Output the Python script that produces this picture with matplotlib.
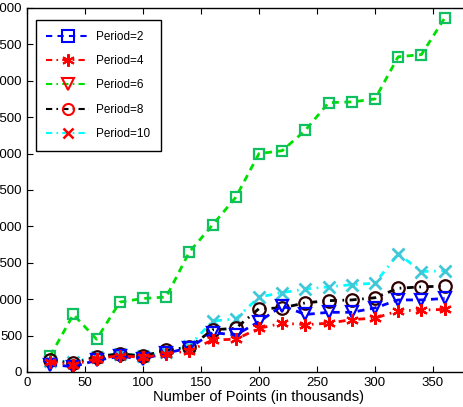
import numpy as np
import matplotlib
matplotlib.use('Agg')
import matplotlib.pyplot as plt
from matplotlib.lines import Line2D

plt.rcParams['font.family'] = ['Liberation Sans', 'DejaVu Sans']

# number of points (thousands)
points = [20, 40, 60, 80, 100, 120, 140, 160, 180, 200, 220, 240, 260, 280, 300, 320, 340, 360]

period2 = [100, 75, 160, 215, 180, 260, 330, 540, 510, 690, 910, 790, 820, 820, 880, 990, 990, 1010]
period4 = [140, 100, 185, 225, 200, 250, 290, 440, 450, 600, 670, 650, 670, 720, 740, 840, 850, 860]
period6 = [220, 790, 450, 960, 1010, 1030, 1650, 2020, 2400, 3000, 3040, 3320, 3700, 3710, 3750, 4330, 4360, 4860]
period8 = [165, 120, 210, 250, 220, 300, 340, 580, 600, 870, 880, 950, 980, 990, 1020, 1150, 1170, 1180]
period10 = [155, 140, 210, 250, 220, 280, 360, 700, 730, 1030, 1090, 1140, 1170, 1200, 1220, 1625, 1380, 1390]

labels = ['Period=2', 'Period=4', 'Period=6', 'Period=8', 'Period=10']

# matlab-ish dash patterns (scaled by linewidth)
dash = (2.5, 2)
dashdot = (2.5, 2, 0.6, 2)

fig = plt.figure(figsize=(4.64, 4.07), dpi=100)
# axes runs past the right edge, like the cropped original
ax = fig.add_axes([27/464, 35/407, 464/464, 364/407])

ax.plot(points, period6, color='#00e000', lw=2, dashes=dash, marker='s', ms=7,
        mfc='none', mec='#10c060', mew=1.6)
ax.plot(points, period10, color='cyan', lw=2, dashes=dashdot, marker='x', ms=8,
        mec='#40c8d8', mew=2)
ax.plot(points, period8, color='black', lw=2, dashes=dashdot, marker='o', ms=9,
        mfc='none', mec='#300000', mew=1.6)
ax.plot(points, period2, color='blue', lw=2, dashes=dash, marker='v', ms=9,
        mfc='none', mec='blue', mew=1.6)
ax.plot(points, period4, color='red', lw=2, dashes=dashdot, marker=(6, 2, 0), ms=9,
        mec='red', mew=1.6)

ax.set_xlim(0, 400)
ax.set_ylim(0, 5000)
ax.set_xticks(np.arange(0, 351, 50))
ax.set_yticks(np.arange(0, 5001, 500))
ax.tick_params(direction='in', top=True, right=True, labelsize=9.5, length=4)
ax.set_xlabel('Number of Points (in thousands)', fontsize=10.5, labelpad=1)
for s in ax.spines.values():
    s.set_linewidth(1)

handles = [
    Line2D([], [], color='blue', lw=1.5, dashes=(3, 2.5), marker='s', ms=8, mfc='none', mec='blue', mew=1.5),
    Line2D([], [], color='red', lw=1.5, dashes=(3, 2, 0.8, 2), marker=(6, 2, 0), ms=9, mec='red', mew=1.5),
    Line2D([], [], color='#00e000', lw=1.5, dashes=(3, 2, 0.8, 2), marker='v', ms=9, mfc='none', mec='red', mew=1.5),
    Line2D([], [], color='black', lw=1.5, dashes=(3, 2, 0.8, 2), marker='o', ms=8, mfc='none', mec='red', mew=1.5),
    Line2D([], [], color='cyan', lw=1.5, dashes=(3, 2, 0.8, 2), marker='x', ms=7, mec='red', mew=1.8),
]
leg = ax.legend(handles, labels, loc='upper left', bbox_to_anchor=(0.019, 0.967),
                borderaxespad=0, fontsize=8.5, fancybox=False, edgecolor='black',
                framealpha=1, handlelength=3.6, labelspacing=1.05, borderpad=0.9,
                handletextpad=0.6)
leg.get_frame().set_linewidth(1)

fig.savefig('out.png', dpi=100)
